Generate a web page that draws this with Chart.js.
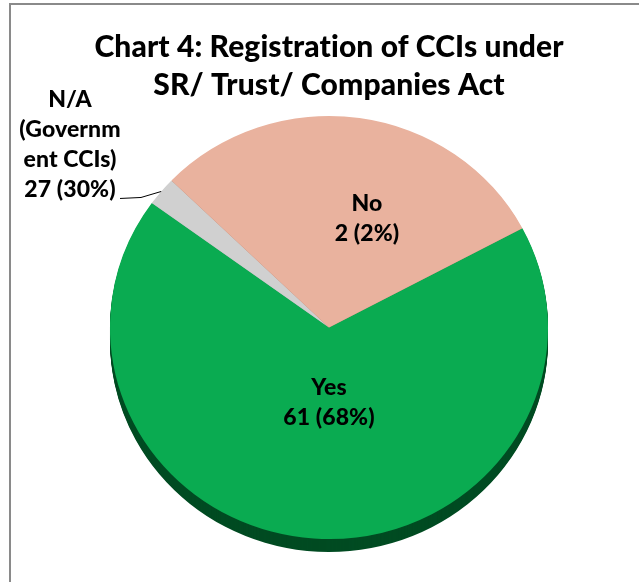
<!DOCTYPE html>
<html>
<head>
<meta charset="utf-8">
<script src="https://cdn.jsdelivr.net/npm/chart.js@4"></script>
<style>
  html, body { margin: 0; padding: 0; background: #fff; }
  #wrap { position: relative; width: 639px; height: 582px; overflow: hidden; }
  #frame { position: absolute; left: 9px; top: 3px; right: -5px; bottom: -5px; border-top: 2px solid #8a8a8a; border-left: 2px solid #8a8a8a; }
  #chart { position: absolute; left: 0; top: 0; }
</style>
</head>
<body>
<div id="wrap">
  <div id="frame"></div>
  <canvas id="chart" width="639" height="582"></canvas>
</div>
<script>
// slices in drawing order (clockwise from the right-hand edge)
const sliceNames = ["Yes", "N/A (Government CCIs)", "No"];
const sliceValues = [61, 2, 27];
const sliceLabels = [
  ["Yes", "61 (68%)"],
  ["N/A", "(Governm", "ent CCIs)", "27 (30%)"],
  ["No", "2 (2%)"]
];
const titleLines = ["Chart 4: Registration of CCIs under", "SR/ Trust/ Companies Act"];

const sliceColors = ["#0aab51", "#d0d0d0", "#e9b29e"];
const sideColors = ["#004b22", "#9a9a9a", "#b07c68"];
const squish = 0.966;   // pie is slightly tilted
const depth = 13;       // thickness of the 3d edge
const labelFont = "900 23px Lato";

// first line of each label block, relative to pie centre
const labelPlace = [
  { dx: 0, dy: 60 },
  { dx: -259, dy: -228 },
  { dx: 38, dy: -124 }
];
const labelLineH = 30;

function tilt(ctx, cx, cy, shift) {
  ctx.translate(cx, cy + shift);
  ctx.scale(1, squish);
  ctx.translate(-cx, -cy);
}

const pie3d = {
  id: "pie3d",
  beforeDraw(chart) {
    // no "ti" ligature, like the original
    chart.ctx.textRendering = "optimizeSpeed";
    chart.ctx.letterSpacing = "0.1px";
  },
  beforeDatasetsDraw(chart) {
    const ctx = chart.ctx;
    const arcs = chart.getDatasetMeta(0).data;
    const cx = arcs[0].x, cy = arcs[0].y;
    // side of the pie, drawn lower and darker
    for (let s = depth; s > 0; s -= 1) {
      ctx.save();
      tilt(ctx, cx, cy, s);
      arcs.forEach((a, i) => {
        const p = a.getProps(["x", "y", "startAngle", "endAngle", "outerRadius"], true);
        ctx.beginPath();
        ctx.moveTo(p.x, p.y);
        ctx.arc(p.x, p.y, p.outerRadius, p.startAngle, p.endAngle);
        ctx.closePath();
        ctx.fillStyle = sideColors[i];
        ctx.fill();
      });
      ctx.restore();
    }
    ctx.save();
    tilt(ctx, cx, cy, 0);
  },
  afterDatasetsDraw(chart) {
    const ctx = chart.ctx;
    ctx.restore();
    const arcs = chart.getDatasetMeta(0).data;
    const cx = arcs[0].x, cy = arcs[0].y;

    ctx.save();
    ctx.font = labelFont;
    ctx.fillStyle = "#000";
    ctx.textAlign = "center";
    ctx.textBaseline = "middle";
    sliceLabels.forEach((lines, i) => {
      const pl = labelPlace[i];
      lines.forEach((t, k) => ctx.fillText(t, cx + pl.dx, cy + pl.dy + k * labelLineH));
    });

    // leader line for the small slice
    const g = arcs[1].getProps(["x", "y", "startAngle", "endAngle", "outerRadius"], true);
    const mid = (g.startAngle + g.endAngle) / 2;
    const ex = g.x + g.outerRadius * Math.cos(mid);
    const ey = g.y + g.outerRadius * Math.sin(mid) * squish;
    const last = sliceLabels[1].length - 1;
    const ly = cy + labelPlace[1].dy + last * labelLineH + 9;
    ctx.strokeStyle = "#000";
    ctx.lineWidth = 1;
    ctx.beginPath();
    ctx.moveTo(cx + labelPlace[1].dx + 50, ly);
    ctx.lineTo(cx + labelPlace[1].dx + 71, ly - 1);
    ctx.lineTo(ex, ey);
    ctx.stroke();
    ctx.restore();
  }
};

new Chart(document.getElementById("chart"), {
  type: "pie",
  data: {
    labels: sliceNames,
    datasets: [{
      data: sliceValues,
      backgroundColor: sliceColors,
      borderWidth: 0,
      clip: false
    }]
  },
  options: {
    responsive: false,
    animation: false,
    rotation: 62,
    layout: { padding: { left: 20, right: 1, top: 0, bottom: 35.5 } },
    plugins: {
      legend: { display: false },
      tooltip: { enabled: false },
      title: {
        display: true,
        text: titleLines,
        color: "#000",
        font: { family: "Lato", size: 30, weight: "900", lineHeight: 1.266 },
        padding: { top: 28, bottom: 4.5 }
      }
    }
  },
  plugins: [pie3d]
});
</script>
</body>
</html>
